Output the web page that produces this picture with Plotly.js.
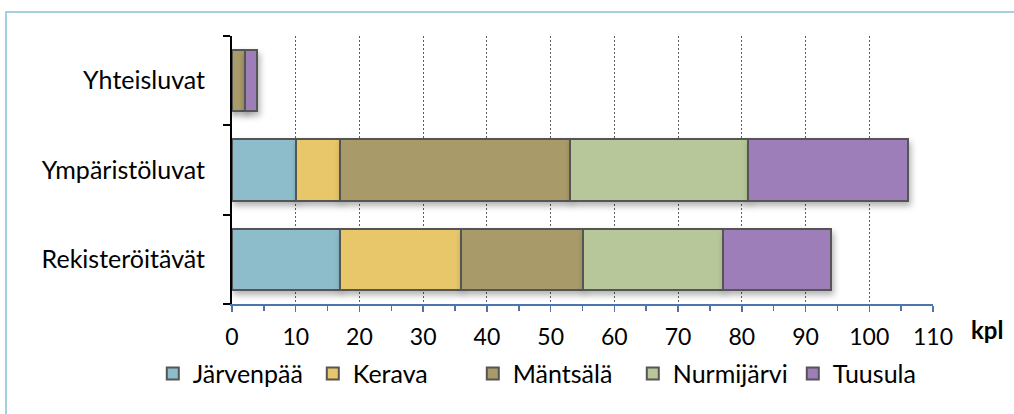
<!DOCTYPE html>
<html>
<head>
<meta charset="utf-8">
<script src="https://cdn.plot.ly/plotly-3.0.1.min.js"></script>
<style>
html,body{margin:0;padding:0;background:#fff;}
#chart{width:1014px;height:414px;}
#chart .barlayer .point path{filter:drop-shadow(2px 4px 3px rgba(0,0,0,0.3));}
</style>
</head>
<body>
<div id="chart"></div>
<script>
const categories = ["Rekisteröitävät", "Ympäristöluvat", "Yhteisluvat"];
const seriesNames = ["Järvenpää", "Kerava", "Mäntsälä", "Nurmijärvi", "Tuusula"];
const jarvenpaa = [17, 10, 0];
const kerava = [19, 7, 0];
const mantsala = [19, 36, 2];
const nurmijarvi = [22, 28, 0];
const tuusula = [17, 25, 2];
const xTickValues = [0, 10, 20, 30, 40, 50, 60, 70, 80, 90, 100, 110];
const unitLabel = "kpl";

const colors = ["#8dbdcb", "#e8c76a", "#a99a69", "#b8c799", "#9e7eb8"];
const values = [jarvenpaa, kerava, mantsala, nurmijarvi, tuusula];
const FONT = "Lato, 'Liberation Sans', sans-serif";

const traces = values.map((v, i) => ({
  type: "bar",
  orientation: "h",
  name: seriesNames[i],
  x: v,
  y: categories,
  marker: { color: colors[i], line: { color: "#555555", width: 2 } },
  hoverinfo: "x+name"
}));

const layout = {
  width: 1014,
  height: 414,
  margin: { l: 232, r: 81, t: 36, b: 110, autoexpand: false },
  barmode: "stack",
  bargap: 0.31,
  paper_bgcolor: "#ffffff",
  plot_bgcolor: "#ffffff",
  font: { family: FONT, color: "#000", size: 22 },
  showlegend: true,
  legend: {
    orientation: "h",
    x: -0.113, xanchor: "left",
    y: -0.26, yanchor: "middle",
    font: { size: 25, family: FONT },
    itemwidth: 30,
    entrywidth: 115,
    entrywidthmode: "pixels",
    traceorder: "normal"
  },
  xaxis: {
    range: [0, 110],
    tickvals: xTickValues,
    tickangle: 0,
    showgrid: true,
    gridcolor: "#5e5e5e",
    griddash: "2px,2px",
    gridwidth: 1,
    zeroline: false,
    showline: true,
    linecolor: "#4a76ad",
    linewidth: 1.5,
    ticks: "outside",
    ticklen: 6,
    tickcolor: "#4a76ad",
    tickwidth: 1.5,
    ticklabelstandoff: 6,
    minor: { dtick: 5, ticks: "outside", ticklen: 5, tickcolor: "#4a76ad", tickwidth: 1.5, showgrid: false },
    tickfont: { size: 23, family: FONT },
    automargin: false,
    fixedrange: true
  },
  yaxis: {
    type: "category",
    categoryorder: "array",
    categoryarray: categories,
    showline: true,
    linecolor: "#000",
    linewidth: 2,
    ticks: "outside",
    tickson: "boundaries",
    ticklen: 7,
    tickcolor: "#000",
    tickwidth: 2,
    ticklabelstandoff: 20,
    showgrid: false,
    zeroline: false,
    tickfont: { size: 25, family: FONT },
    automargin: false,
    fixedrange: true
  },
  annotations: [{
    text: "<b>" + unitLabel + "</b>",
    xref: "paper", yref: "paper",
    x: 1.052, y: -0.095,
    xanchor: "left", yanchor: "middle",
    showarrow: false,
    font: { size: 24, family: FONT, color: "#000" }
  }],
  shapes: [{
    type: "rect",
    xref: "paper", yref: "paper",
    x0: -0.3224, x1: 1.14, y0: -0.45, y1: 1.0896,
    line: { color: "#86c1d6", width: 1.5 },
    fillcolor: "rgba(0,0,0,0)",
    layer: "below"
  }]
};

Plotly.newPlot("chart", traces, layout, { displayModeBar: false, staticPlot: true });
</script>
</body>
</html>
